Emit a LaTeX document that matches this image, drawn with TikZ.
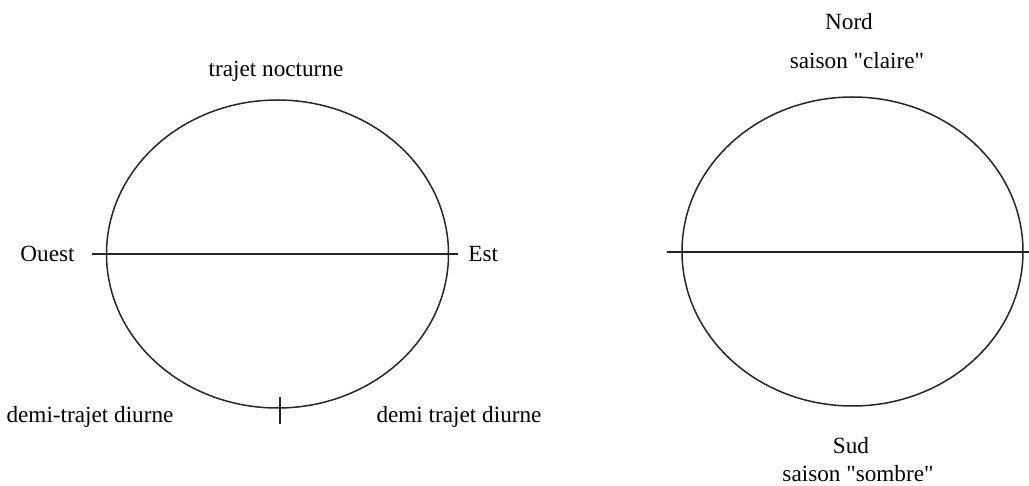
\documentclass[tikz,border=0pt]{standalone}
\usepackage{fontspec}
\newfontfamily\lblfont{Liberation Serif}
\usetikzlibrary{positioning}
\tikzset{
  flab/.style  ={inner sep=0pt, font=\lblfont\fontsize{11.6}{14}\selectfont},
  fcurve/.style={line width=0.75pt, black!85},
}

\begin{document}
\begin{tikzpicture}[x=0.5pt,y=-0.5pt]
\useasboundingbox (0,0) rectangle (1029,486);
% left orbit: east-west
\coordinate (sun1) at (277.5,254);
\coordinate (ouestEnd) at (92,254);
\coordinate (estEnd) at (458,254);
\coordinate (tickTop) at (280,397);
\coordinate (tickBot) at (280,424);
\draw[fcurve] (sun1) ellipse [x radius=171, y radius=154];
\draw[fcurve] (ouestEnd) -- (estEnd);
\draw[fcurve] (tickTop) -- (tickBot);
\node[flab, anchor=east] (ouest) at (75,254) {Ouest};
\node[flab, anchor=west] (est) at (468,254) {Est};
\node[flab] (nocturne) at (276,71) {trajet nocturne};
\node[flab] (diurneG) at (90,417) {demi-trajet diurne};
\node[flab] (diurneD) at (459,417) {demi trajet diurne};

% right orbit: north-south
\coordinate (sun2) at (852.5,251.5);
\coordinate (eqG) at (667,252);
\coordinate (eqD) at (1029,252);
\draw[fcurve] (sun2) ellipse [x radius=170.5, y radius=154.5];
\draw[fcurve] (eqG) -- (eqD);
\node[flab] (nord) at (849,22) {Nord};
\node[flab] (claire) at (857,61) {saison "claire"};
\node[flab] (sud) at (851,446) {Sud};
\node[flab] (sombre) at (858,474) {saison "sombre"};
\end{tikzpicture}
\end{document}
